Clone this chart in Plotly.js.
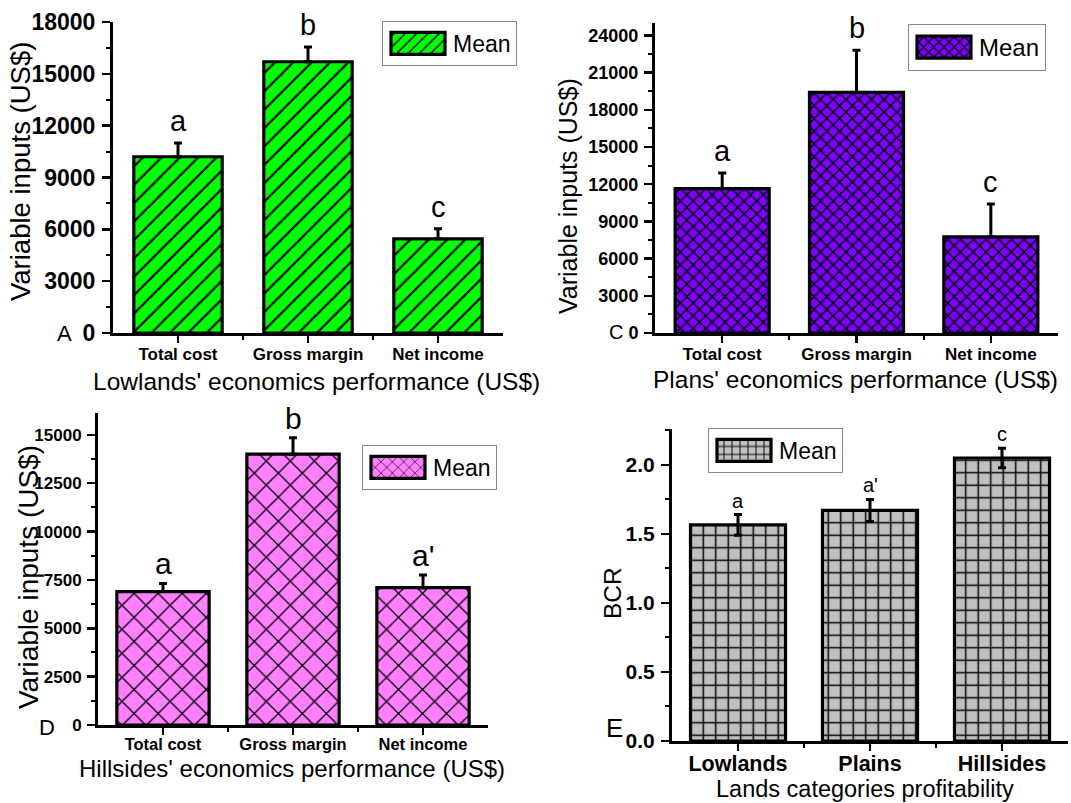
<!DOCTYPE html>
<html>
<head>
<meta charset="utf-8">
<script src="https://cdn.plot.ly/plotly-3.0.1.min.js"></script>
<style>
html,body{margin:0;padding:0;background:#fff;}
#chart{width:1071px;height:803px;}
</style>
</head>
<body>
<div id="chart"></div>
<script>
// ---------- data ----------
const econCategories = ['Total cost', 'Gross margin', 'Net income'];
const lowlandsMean = [10200, 15700, 5450];
const lowlandsErr = [800, 850, 580];
const lowlandsLetters = ['a', 'b', 'c'];

const plainsMean = [11650, 19400, 7750];
const plainsErr = [1250, 3400, 2650];
const plainsLetters = ['a', 'b', 'c'];

const hillsidesMean = [6900, 14000, 7100];
const hillsidesErr = [420, 850, 650];
const hillsidesLetters = ['a', 'b', "a'"];

const landCategories = ['Lowlands', 'Plains', 'Hillsides'];
const bcrMean = [1.565, 1.67, 2.05];
const bcrErr = [0.075, 0.08, 0.07];
const bcrLetters = ['a', "a'", 'c'];

const panelLabels = ['A', 'C', 'D', 'E'];

// ---------- helpers ----------
const W = 1071, H = 803;
const px = v => v / W;
const py = v => 1 - v / H;
const FONT = 'Liberation Sans, Arial, sans-serif';
const idx = arr => arr.map((_, i) => i);

function barTrace(cats, mean, err, ax, color, pattern, legendName, symmetric, bw) {
  return {
    type: 'bar',
    x: idx(cats),
    y: mean,
    xaxis: 'x' + ax, yaxis: 'y' + ax,
    width: bw,
    name: 'Mean',
    legend: legendName,
    showlegend: true,
    marker: {
      color: color,
      line: {color: '#000', width: 3.2},
      pattern: Object.assign({fgcolor: '#000', bgcolor: color, fillmode: 'replace'}, pattern)
    },
    error_y: symmetric ? {
      type: 'data', array: err, symmetric: true, color: '#000', thickness: 3, width: 4
    } : {
      type: 'data', array: err, arrayminus: err.map(() => 0), symmetric: false,
      color: '#000', thickness: 3, width: 4
    },
    hoverinfo: 'skip'
  };
}

const data = [
  barTrace(econCategories, lowlandsMean, lowlandsErr, '', '#00ff00', {shape: '/', size: 13, solidity: 0.17}, 'legend', false, 0.68),
  barTrace(econCategories, plainsMean, plainsErr, '2', '#7f00ff', {shape: 'x', size: 9, solidity: 0.3}, 'legend2', false, 0.70),
  barTrace(econCategories, hillsidesMean, hillsidesErr, '3', '#ff80ff', {shape: 'x', size: 17, solidity: 0.15}, 'legend3', false, 0.71),
  barTrace(landCategories, bcrMean, bcrErr, '4', '#c0c0c0', {shape: '+', size: 12.5, solidity: 0.22}, 'legend4', true, 0.72)
];

function xAxis(domain, cats, fs, anchor, standoff) {
  return {
    domain: domain, anchor: anchor, range: [-0.5, 2.5], showline: true, linecolor: '#000', linewidth: 2.5,
    ticks: 'outside', ticklen: 7, tickwidth: 2.5, tickcolor: '#000',
    tickmode: 'array', tickvals: idx(cats), ticktext: cats,
    tickfont: {family: FONT, size: fs, color: '#000', weight: 'bold'},
    ticklabelstandoff: standoff,
    minor: {tickmode: 'array', tickvals: [0.5, 1.5], ticks: 'outside', ticklen: 4, tickwidth: 2, tickcolor: '#000'},
    showgrid: false, zeroline: false, fixedrange: true
  };
}
function yAxis(domain, range, dtick, fs, anchor, fmt) {
  return {
    domain: domain, anchor: anchor, range: range, showline: true, linecolor: '#000', linewidth: 3,
    ticks: 'outside', ticklen: 8, tickwidth: 2.5, tickcolor: '#000',
    tick0: 0, dtick: dtick, tickformat: fmt || 'd',
    tickfont: {family: FONT, size: fs, color: '#000', weight: 'bold'},
    minor: {dtick: dtick / 2, tick0: 0, ticks: 'outside', ticklen: 4, tickwidth: 2, tickcolor: '#000'},
    showgrid: false, zeroline: false, fixedrange: true, ticklabelstandoff: 2
  };
}

const layout = {
  width: W, height: H,
  margin: {l: 0, r: 0, t: 0, b: 0},
  paper_bgcolor: '#fff', plot_bgcolor: 'rgba(0,0,0,0)',
  font: {family: FONT, color: '#000'},
  xaxis: xAxis([px(113), px(503)], econCategories, 17, 'y', -3),
  yaxis: yAxis([py(333), py(22)], [0, 18000], 3000, 23, 'x'),
  xaxis2: xAxis([px(655), px(1058)], econCategories, 17, 'y2', -3),
  yaxis2: yAxis([py(333), py(23)], [0, 25000], 3000, 18, 'x2'),
  xaxis3: xAxis([px(98), px(488)], econCategories, 16.5, 'y3', -4),
  yaxis3: yAxis([py(725), py(413)], [0, 16130], 2500, 17, 'x3'),
  xaxis4: xAxis([px(672), px(1068)], landCategories, 21.5, 'y4', -5),
  yaxis4: yAxis([py(741), py(429)], [0, 2.26], 0.5, 21, 'x4', '.1f'),
  legend: {x: px(382), y: py(21), xanchor: 'left', yanchor: 'top', bgcolor: '#fff', bordercolor: '#888', borderwidth: 1,
           font: {family: FONT, size: 23, color: '#000'}, itemwidth: 60},
  legend2: {x: px(908), y: py(24), xanchor: 'left', yanchor: 'top', bgcolor: '#fff', bordercolor: '#888', borderwidth: 1,
           font: {family: FONT, size: 24, color: '#000'}, itemwidth: 60},
  legend3: {x: px(362), y: py(445), xanchor: 'left', yanchor: 'top', bgcolor: '#fff', bordercolor: '#888', borderwidth: 1,
           font: {family: FONT, size: 23, color: '#000'}, itemwidth: 60},
  legend4: {x: px(708), y: py(428), xanchor: 'left', yanchor: 'top', bgcolor: '#fff', bordercolor: '#888', borderwidth: 1,
           font: {family: FONT, size: 23, color: '#000'}, itemwidth: 60},
  annotations: [],
  showlegend: true
};

function ann(text, x, y, size, opts) {
  return Object.assign({text: text, x: px(x), y: py(y), xref: 'paper', yref: 'paper', showarrow: false,
    font: {family: FONT, size: size, color: '#000'}, xanchor: 'center', yanchor: 'middle'}, opts || {});
}
layout.annotations.push(
  ann('Lowlands\' economics performance (US$)', 316, 381, 24.5),
  ann('Variable inputs (US$)', 21, 172, 27.5, {textangle: -90}),
  ann('Plans\' economics performance (US$)', 855, 379, 24.5),
  ann('Variable inputs (US$)', 568, 196, 25, {textangle: -90}),
  ann('Hillsides\' economics performance (US$)', 292, 768, 24),
  ann('Variable inputs (US$)', 28, 577, 28, {textangle: -90}),
  ann('Lands categories profitability', 865, 789, 23.5),
  ann('BCR', 612, 593, 24.5, {textangle: -90}),
  ann(panelLabels[0], 64, 333, 22),
  ann(panelLabels[1], 616, 332, 20),
  ann(panelLabels[2], 47, 727, 22),
  ann(panelLabels[3], 614, 728, 26)
);

function letters(cats, mean, err, lets, ax, size, shift) {
  cats.forEach((c, i) => {
    layout.annotations.push({
      text: lets[i], x: i, y: mean[i] + err[i], xref: 'x' + ax, yref: 'y' + ax,
      showarrow: false, xanchor: 'center', yanchor: 'bottom', yshift: shift,
      font: {family: FONT, size: size, color: '#000'}
    });
  });
}
letters(econCategories, lowlandsMean, lowlandsErr, lowlandsLetters, '', 29, 4);
letters(econCategories, plainsMean, plainsErr, plainsLetters, '2', 29, 4);
letters(econCategories, hillsidesMean, hillsidesErr, hillsidesLetters, '3', 30, 1);
letters(landCategories, bcrMean, bcrErr, bcrLetters, '4', 20, 1);

Plotly.newPlot('chart', data, layout, {staticPlot: true}).then(gd => {
  document.querySelectorAll('.legendpoints path').forEach(p => {
    p.setAttribute('d', 'M27,11H-27V-11H27Z');
  });
});
</script>
</body>
</html>
